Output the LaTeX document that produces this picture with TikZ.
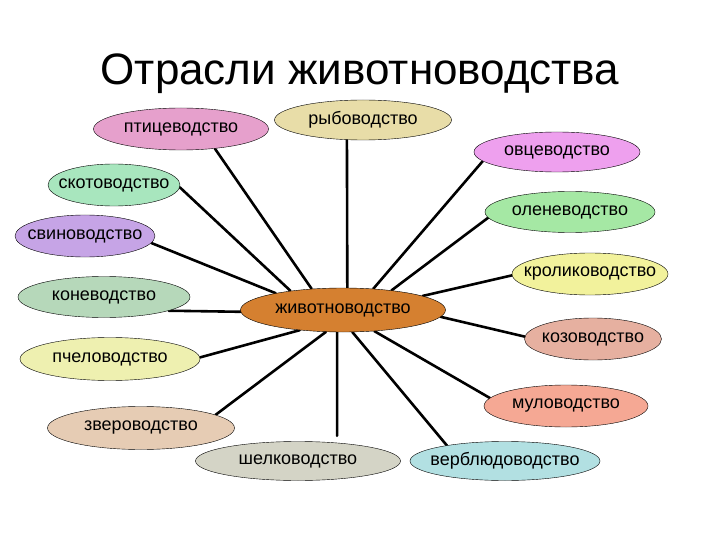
\documentclass[tikz,border=0pt]{standalone}
\usepackage{fontspec}
\setmainfont{Liberation Sans}
\usetikzlibrary{shapes.geometric}
\usetikzlibrary{backgrounds}
\definecolor{ptitsecol}{HTML}{E6A0CC}
\definecolor{rybacol}{HTML}{E8DDA8}
\definecolor{ovtsecol}{HTML}{EEA0EE}
\definecolor{skotcol}{HTML}{A8E6BE}
\definecolor{olencol}{HTML}{A5E8A4}
\definecolor{svincol}{HTML}{C6A4E6}
\definecolor{krolikcol}{HTML}{F2F29C}
\definecolor{konecol}{HTML}{B6D8BA}
\definecolor{zhivotcol}{HTML}{D58030}
\definecolor{kozacol}{HTML}{E6B0A0}
\definecolor{pchelcol}{HTML}{EEF0B0}
\definecolor{mulcol}{HTML}{F5A894}
\definecolor{zvercol}{HTML}{E6CCB4}
\definecolor{shelkcol}{HTML}{D4D4C6}
\definecolor{verbludcol}{HTML}{B2E0E2}
\tikzset{bubble/.style={ellipse, draw, thin, inner xsep=-40pt, inner ysep=0pt, minimum height=41pt, font=\fontsize{18}{20}\selectfont}}
\tikzset{link/.style={line width=2.6pt, line cap=round}}

\begin{document}
\begin{tikzpicture}[x=1pt,y=-1pt]
\useasboundingbox (0,0) rectangle (720,540);
\node [font=\fontsize{44}{50}\selectfont, anchor=base] (title) at (360,85) {Отрасли животноводства};
\node [bubble, fill=ptitsecol, minimum width=175pt, minimum height=42pt] (ptitse) at (181,129) {птицеводство};
\node [bubble, fill=rybacol, minimum width=177pt, minimum height=40pt] (ryba) at (363,120) {рыбоводство};
\node [bubble, fill=ovtsecol, minimum width=166pt, minimum height=40pt] (ovtse) at (557,152) {овцеводство};
\node [bubble, fill=skotcol, minimum width=132pt, minimum height=42pt] (skot) at (114,185) {скотоводство};
\node [bubble, fill=olencol, minimum width=170pt] (olen) at (570,212) {оленеводство};
\node [bubble, fill=svincol, minimum width=140pt, minimum height=42pt] (svin) at (85,236) {свиноводство};
\node [bubble, fill=krolikcol, minimum width=156pt, minimum height=42pt] (krolik) at (590,274) {кролиководство};
\node [bubble, fill=konecol, minimum width=172pt] (kone) at (104,297) {коневодство};
\node [bubble, fill=zhivotcol, minimum width=205pt, minimum height=44pt] (zhivot) at (343,310) {животноводство};
\node [bubble, fill=kozacol, minimum width=137pt, minimum height=42pt] (koza) at (593,339) {козоводство};
\node [bubble, fill=pchelcol, minimum width=180pt, minimum height=43pt] (pchel) at (110,359) {пчеловодство};
\node [bubble, fill=mulcol, minimum width=164pt, minimum height=42pt] (mul) at (566,406) {муловодство};
\node [bubble, fill=zvercol, minimum width=187pt, minimum height=43pt] (zver) at (141,428) {звероводство};
\node [bubble, fill=shelkcol, minimum width=205pt, minimum height=39pt] (shelk) at (298,461) {шелководство};
\node [bubble, fill=verbludcol, minimum width=190pt, minimum height=39pt] (verblud) at (505,461) {верблюдоводство};
\begin{scope}[on background layer]
\fill [white] (0,0) rectangle (720,540);
\draw [link] (zhivot.146) -- (ptitse.-30);
\draw [link] (zhivot.79) -- (ryba.231);
\draw [link] (zhivot.35) -- (ovtse.187);
\draw [link] (zhivot.160) -- (skot.-2);
\draw [link] (zhivot.22) -- (olen.184);
\draw [link] (zhivot.166) -- (svin.-6);
\draw [link] (zhivot.10) -- (krolik.181);
\draw [link] (zhivot.181) -- (kone.-12);
\draw [link] (zhivot.-4) -- (koza.178);
\draw [link] (zhivot.205) -- (pchel.1);
\draw [link] (zhivot.-34) -- (mul.174);
\draw [link] (zhivot.232) -- (zver.10);
\draw [link, shorten >=7pt] (zhivot.255) -- (shelk.25);
\draw [link] (zhivot.-67) -- (verblud.165);
\end{scope}
\end{tikzpicture}
\end{document}
